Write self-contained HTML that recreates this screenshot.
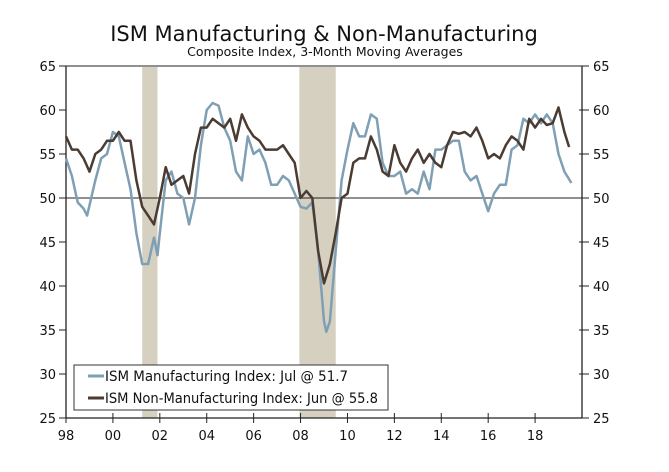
<!DOCTYPE html>
<html><head><meta charset="utf-8"><style>
body{margin:0;background:#fff;}
svg text{font-family:"DejaVu Sans","Liberation Sans",sans-serif;fill:#111;}
</style></head><body>
<svg id="c" width="669" height="467">
<text x="324" y="41" font-size="21" text-anchor="middle">ISM Manufacturing &amp; Non-Manufacturing</text>
<text x="325" y="56" font-size="12.5" text-anchor="middle">Composite Index, 3-Month Moving Averages</text>
<g id="plot"></g>
</svg>
<script>
const recessions=[[2001.25,2001.9],[2007.95,2009.5]];
const yTicks=[25,30,35,40,45,50,55,60,65];
const xTickYears=[1998,2000,2002,2004,2006,2008,2010,2012,2014,2016,2018];
const xTickLabels=["98","00","02","04","06","08","10","12","14","16","18"];
const mfgX=[1998,1998.25,1998.5,1998.75,1998.9,1999.25,1999.5,1999.75,2000,2000.25,2000.5,2000.75,2001,2001.25,2001.5,2001.75,2001.9,2002,2002.25,2002.5,2002.75,2003,2003.25,2003.5,2003.75,2004,2004.25,2004.5,2004.75,2005,2005.25,2005.5,2005.75,2006,2006.25,2006.5,2006.75,2007,2007.25,2007.5,2007.75,2008,2008.25,2008.5,2008.75,2009,2009.1,2009.25,2009.5,2009.75,2010,2010.25,2010.5,2010.75,2011,2011.25,2011.5,2011.75,2012,2012.25,2012.5,2012.75,2013,2013.25,2013.5,2013.75,2014,2014.25,2014.5,2014.75,2015,2015.25,2015.5,2015.75,2016,2016.25,2016.5,2016.75,2017,2017.25,2017.5,2017.75,2018,2018.25,2018.5,2018.75,2019,2019.25,2019.55];
const mfgY=[54.5,52.5,49.5,48.8,48,52,54.5,55,57.5,57,54,51,46,42.5,42.5,45.5,43.5,46,52,53,50.5,50,47,50,56,60,60.8,60.5,58,56.5,53,52,57,55,55.5,54,51.5,51.5,52.5,52,50.5,49,48.8,49.5,44,36,34.8,36,44,52,55.5,58.5,57,57,59.5,59,54,52.5,52.5,53,50.5,51,50.5,53,51,55.5,55.5,56,56.5,56.5,53,52,52.5,50.5,48.5,50.5,51.5,51.5,55.5,56,59,58.5,59.5,58.5,59.5,58.5,55,53,51.7];
const nmX=[1998,1998.25,1998.5,1998.75,1999,1999.25,1999.5,1999.75,2000,2000.25,2000.5,2000.75,2001,2001.25,2001.5,2001.75,2002,2002.25,2002.5,2002.75,2003,2003.25,2003.5,2003.75,2004,2004.25,2004.5,2004.75,2005,2005.25,2005.5,2005.75,2006,2006.25,2006.5,2006.75,2007,2007.25,2007.5,2007.75,2008,2008.25,2008.5,2008.75,2009,2009.25,2009.5,2009.75,2010,2010.25,2010.5,2010.75,2011,2011.25,2011.5,2011.75,2012,2012.25,2012.5,2012.75,2013,2013.25,2013.5,2013.75,2014,2014.25,2014.5,2014.75,2015,2015.25,2015.5,2015.75,2016,2016.25,2016.5,2016.75,2017,2017.25,2017.5,2017.75,2018,2018.25,2018.5,2018.75,2019,2019.25,2019.45];
const nmY=[57,55.5,55.5,54.5,53,55,55.5,56.5,56.5,57.5,56.5,56.5,52,49,48,47,50,53.5,51.5,52,52.5,50.5,55,58,58,59,58.5,58,59,56.5,59.5,58,57,56.5,55.5,55.5,55.5,56,55,54,50,50.8,50,44,40.3,42.5,46,50,50.5,54,54.5,54.5,57,55.5,53,52.5,56,54,53,54.5,55.5,54,55,54,53.5,56,57.5,57.3,57.5,57,58,56.5,54.5,55,54.5,56,57,56.5,55.5,59,58,59,58.3,58.5,60.3,57.5,55.8];

const L=66,R=582,T=66,B=418;
const xs=v=>L+(v-1998)/(22)*(R-L);
const ys=v=>B-(v-25)/40*(B-T);
const g=document.getElementById('plot');
const NS='http://www.w3.org/2000/svg';
function mk(t,a){const e=document.createElementNS(NS,t);for(const k in a)e.setAttribute(k,a[k]);g.appendChild(e);return e;}
recessions.forEach((r,i)=>{
 const e=mk('rect',{x:xs(r[0]),y:T+1,width:xs(r[1])-xs(r[0]),height:B-T-1,fill:'#d6d0c0'});
 
 
});
let e;
e=mk('line',{x1:L,y1:T,x2:R,y2:T,stroke:'#222','stroke-width':1});


e=mk('line',{x1:L,y1:T,x2:L,y2:B,stroke:'#222','stroke-width':1.3});


e=mk('line',{x1:R,y1:T,x2:R,y2:B,stroke:'#222','stroke-width':1.3});


e=mk('line',{x1:L,y1:B,x2:R,y2:B,stroke:'#222','stroke-width':1.3});


e=mk('line',{x1:L,y1:ys(50),x2:R,y2:ys(50),stroke:'#222','stroke-width':1});


yTicks.forEach(v=>{
 const y=ys(v);
 mk('line',{x1:L-7,y1:y,x2:L,y2:y,stroke:'#222'});
 mk('line',{x1:R-3,y1:y,x2:R+7,y2:y,stroke:'#222'});
 e=mk('text',{x:L-10,y:y+5,'font-size':13,'text-anchor':'end'});e.textContent=v;
 
 
 e=mk('text',{x:R+11,y:y+5,'font-size':13});e.textContent=v;
 
 
});
xTickYears.forEach((v,i)=>{
 const x=xs(v);
 mk('line',{x1:x,y1:B-5,x2:x,y2:B+5,stroke:'#222'});
 e=mk('text',{x:x,y:B+22,'font-size':13,'text-anchor':'middle'});e.textContent=xTickLabels[i];
 
 
});
function path(X,Y){return X.map((v,i)=>(i?'L':'M')+xs(v).toFixed(1)+','+ys(Y[i]).toFixed(1)).join('');}
e=mk('path',{d:path(mfgX,mfgY),fill:'none',stroke:'#7f9fb4','stroke-width':2.5,'stroke-linejoin':'round'});


e=mk('path',{d:path(nmX,nmY),fill:'none',stroke:'#4a3b33','stroke-width':2.5,'stroke-linejoin':'round'});


e=mk('rect',{x:74,y:365,width:314,height:45,fill:'#fff',stroke:'#333','stroke-width':1});


mk('line',{x1:88,y1:376,x2:104,y2:376,stroke:'#7f9fb4','stroke-width':3});
mk('line',{x1:88,y1:398,x2:104,y2:398,stroke:'#4a3b33','stroke-width':3});
e=mk('text',{x:105,y:381,'font-size':14,textLength:243,lengthAdjust:'spacingAndGlyphs'});e.textContent='ISM Manufacturing Index: Jul @ 51.7';


e=mk('text',{x:105,y:403,'font-size':14,textLength:273,lengthAdjust:'spacingAndGlyphs'});e.textContent='ISM Non-Manufacturing Index: Jun @ 55.8';


</script>
</body></html>
